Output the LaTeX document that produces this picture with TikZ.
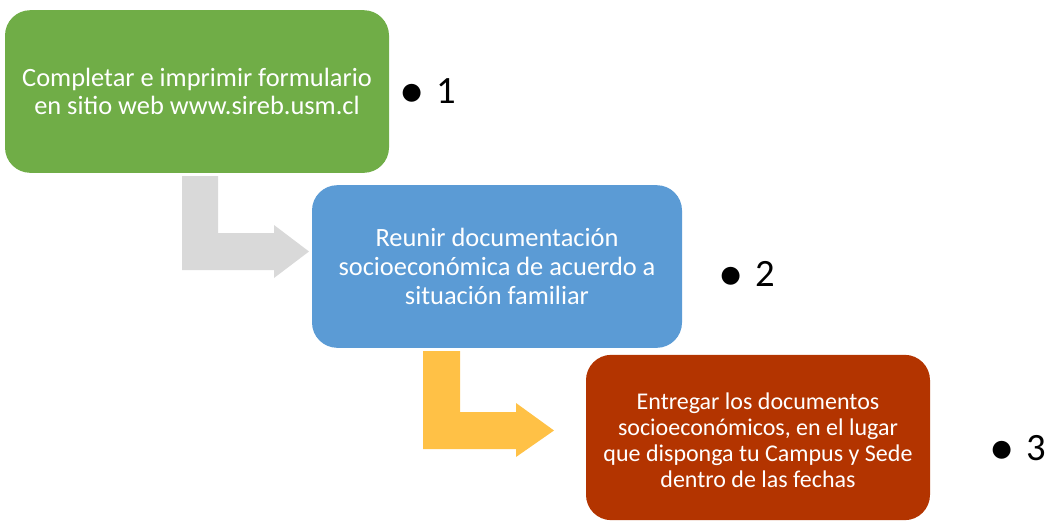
\documentclass[tikz,border=0pt]{standalone}
\usepackage{fontspec}
\setmainfont{Carlito}
\definecolor{stepgreen}{HTML}{70AD47}
\definecolor{stepblue}{HTML}{5B9BD5}
\definecolor{stepred}{HTML}{B33400}
\definecolor{arrowgrey}{HTML}{D9D9D9}
\definecolor{arrowgold}{HTML}{FFC146}
\newcommand{\bigdot}{\raisebox{-3pt}{\fontsize{38}{38}\selectfont\textbullet}}

\begin{document}
\begin{tikzpicture}[x=0.75pt,y=-0.75pt,
    stepbox/.style={rounded corners=19pt,text=white,align=center,inner sep=0pt},
    stepnum/.style={font=\fontsize{29}{34}\selectfont,inner sep=0pt}]
    \useasboundingbox (0,0) rectangle (1051,521);
    % steps
    \node[stepbox,fill=stepgreen,minimum width=288pt,minimum height=122pt,
      font=\fontsize{19.8}{21}\selectfont] (a) at (197,91.5)
      {Completar e imprimir formulario\\en sitio web www.sireb.usm.cl};
    \node[stepbox,fill=stepblue,minimum width=277.5pt,minimum height=122pt,
      font=\fontsize{19.8}{22}\selectfont] (b) at (497,266.5)
      {Reunir documentación\\socioeconómica de acuerdo a\\situación familiar};
    \node[stepbox,fill=stepred,minimum width=258pt,minimum height=124pt,
      font=\fontsize{18}{19.5}\selectfont] (c) at (758,437.5)
      {\\[-3pt]Entregar los documentos\\socioeconómicos, en el lugar\\que disponga tu Campus y Sede\\dentro de las fechas};
    % numbers
    \node[stepnum,anchor=west] (n1) at (399,93) {\bigdot\hspace{9pt}1};
    \node[stepnum,anchor=west] (n2) at (718,276) {\bigdot\hspace{9pt}2};
    \node[stepnum,anchor=west] (n3) at (989,450) {\bigdot\hspace{9pt}3};
    % bent arrows
    \coordinate (g) at (182,176);
    \coordinate (y) at (423,351);
    \fill[arrowgrey] (g) -- ++(36,0) -- ++(0,57) -- ++(56,0) -- ++(0,-8)
      -- ++(35,26.5) -- ++(-35,26.5) -- ++(0,-8) -- ++(-92,0) -- cycle;
    \fill[arrowgold] (y) -- ++(37,0) -- ++(0,61) -- ++(56,0) -- ++(0,-9)
      -- ++(38,27.5) -- ++(-38,26.5) -- ++(0,-8) -- ++(-93,0) -- cycle;
\end{tikzpicture}
\end{document}
